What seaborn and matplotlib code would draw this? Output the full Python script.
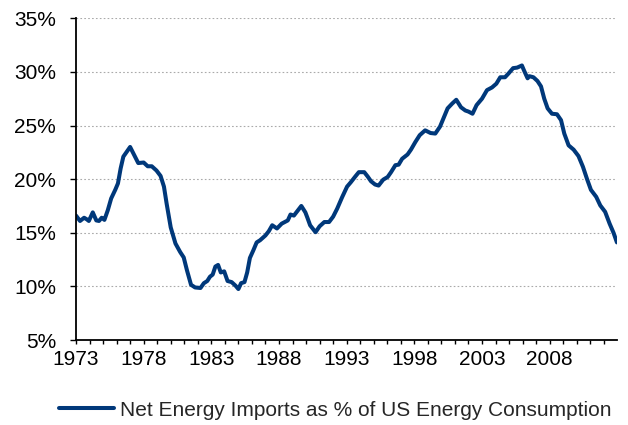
import numpy as np
import pandas as pd
import seaborn as sns
import matplotlib.pyplot as plt
from matplotlib.ticker import FuncFormatter

sns.set_style("white")
plt.rcParams['font.family'] = ['Liberation Sans', 'DejaVu Sans']

# values (decimal year, % of consumption)
years = [1973.0, 1973.3, 1973.6, 1973.8, 1973.95, 1974.24, 1974.5, 1974.7, 1974.9, 1975.1,
         1975.35, 1975.6, 1975.9, 1976.1, 1976.3, 1976.5, 1976.8, 1977.0, 1977.3, 1977.6,
         1978.0, 1978.3, 1978.6, 1978.95, 1979.25, 1979.5, 1979.7, 1980.0, 1980.35, 1980.7,
         1980.96, 1981.2, 1981.5, 1981.8, 1982.2, 1982.45, 1982.7, 1982.9, 1983.1, 1983.3,
         1983.5, 1983.7, 1983.95, 1984.2, 1984.5, 1984.8, 1985.0, 1985.2, 1985.45, 1985.65,
         1985.85, 1986.1, 1986.35, 1986.6, 1987.0, 1987.25, 1987.5, 1987.85, 1988.2, 1988.65,
         1988.85, 1989.1, 1989.4, 1989.65, 1989.95, 1990.1, 1990.3, 1990.7, 1991.0, 1991.35,
         1991.7, 1992.0, 1992.3, 1992.66, 1993.03, 1993.3, 1993.64, 1993.9, 1994.3, 1994.55,
         1994.8, 1995.1, 1995.36, 1995.7, 1996.03, 1996.28, 1996.6, 1996.84, 1997.1, 1997.5,
         1997.75, 1998.07, 1998.4, 1998.8, 1999.2, 1999.55, 1999.9, 2000.2, 2000.46, 2000.8,
         2001.1, 2001.45, 2001.77, 2002.0, 2002.3, 2002.6, 2003.0, 2003.37, 2003.74, 2004.06,
         2004.35, 2004.7, 2004.96, 2005.3, 2005.6, 2005.95, 2006.1, 2006.37, 2006.5, 2006.8,
         2007.1, 2007.36, 2007.6, 2007.85, 2008.17, 2008.54, 2008.84, 2009.08, 2009.4, 2009.77,
         2010.13, 2010.46, 2010.75, 2011.05, 2011.44, 2011.74, 2012.1, 2012.43, 2012.72, 2012.97]

imports_pct = [16.6, 16.1, 16.4, 16.25, 16.1, 16.9, 16.15, 16.1, 16.4, 16.2,
               17.1, 18.2, 19.0, 19.6, 21.0, 22.1, 22.65, 23.0, 22.25, 21.5,
               21.55, 21.2, 21.2, 20.8, 20.3, 19.3, 17.7, 15.5, 14.0, 13.2,
               12.7, 11.5, 10.15, 9.9, 9.85, 10.3, 10.5, 10.9, 11.1, 11.85,
               12.0, 11.3, 11.4, 10.5, 10.4, 10.05, 9.75, 10.3, 10.4, 11.3,
               12.65, 13.35, 14.1, 14.3, 14.75, 15.15, 15.7, 15.4, 15.85, 16.15,
               16.7, 16.6, 17.1, 17.5, 16.9, 16.4, 15.7, 15.05, 15.6, 16.0,
               16.0, 16.5, 17.25, 18.3, 19.3, 19.7, 20.25, 20.65, 20.65, 20.25,
               19.8, 19.5, 19.4, 19.95, 20.2, 20.65, 21.3, 21.35, 21.9, 22.3,
               22.75, 23.45, 24.1, 24.55, 24.3, 24.25, 24.9, 25.8, 26.6, 27.05,
               27.4, 26.7, 26.4, 26.3, 26.1, 26.9, 27.5, 28.3, 28.55, 28.9,
               29.5, 29.5, 29.85, 30.35, 30.4, 30.6, 30.15, 29.4, 29.6, 29.5,
               29.15, 28.65, 27.5, 26.6, 26.1, 26.05, 25.5, 24.25, 23.15, 22.75,
               22.15, 21.15, 20.05, 19.0, 18.35, 17.55, 16.95, 15.85, 15.0, 14.1]

label = "Net Energy Imports as % of US Energy Consumption"
df = pd.DataFrame({"Year": years, "Value": imports_pct})

fig = plt.figure(figsize=(6.28, 4.25), dpi=100)
ax = fig.add_axes([0.121, 0.2, 0.862, 0.757])

sns.lineplot(data=df, x="Year", y="Value", ax=ax, color="#00387A",
             linewidth=2.9, label=label, legend=False)

ax.set_xlim(1973, 2013.0)
ax.set_ylim(5, 35)
ax.set_yticks(range(5, 36, 5))
ax.yaxis.set_major_formatter(FuncFormatter(lambda v, p: f"{v:.0f}%"))
ax.set_xticks(range(1973, 2013))
ax.set_xticklabels([str(y) if (y - 1973) % 5 == 0 else "" for y in range(1973, 2013)])
ax.set_xlabel("")
ax.set_ylabel("")

ax.yaxis.grid(True, color="#aaaaaa", linestyle=(0, (1.5, 2)), linewidth=0.8)
ax.xaxis.grid(False)
for s in ["top", "right"]:
    ax.spines[s].set_visible(False)
for s in ["left", "bottom"]:
    ax.spines[s].set_color("black")
    ax.spines[s].set_linewidth(1.3)
ax.tick_params(axis="y", which="major", left=True, length=4.3, width=1, color="black",
               labelsize=15, pad=10)
ax.tick_params(axis="x", which="major", bottom=True, length=3, width=1, color="black",
               labelsize=15, pad=4)
for t in ax.get_xticklabels():
    t.set_color("black")
for t in ax.get_yticklabels():
    t.set_color("black")

fig.legend(handles=ax.get_lines()[:1], labels=[label], loc="center",
           bbox_to_anchor=(0.534, 0.035), frameon=False, fontsize=15,
           handlelength=2.6, handletextpad=0.3)

fig.savefig("out.png", dpi=100)
